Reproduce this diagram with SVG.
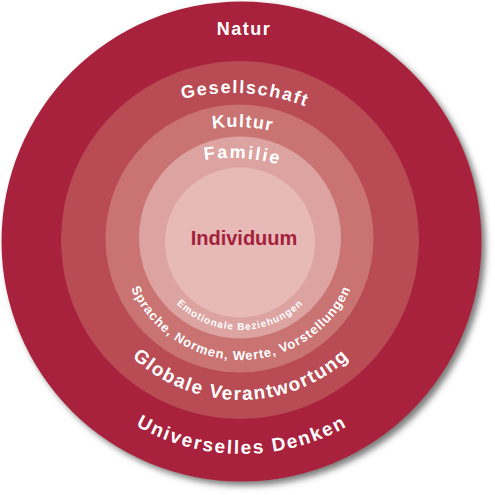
<svg xmlns="http://www.w3.org/2000/svg" width="495" height="495" viewBox="0 0 495 495">
  <style>
    .lbl { font-family: "Liberation Sans", Arial, sans-serif; font-weight: bold; fill: #ffffff; }
    .big { font-size: 19px; }
    .mid { font-size: 18px; }
  </style>
  <defs>
    <filter id="shadow" x="-10%" y="-10%" width="125%" height="125%">
      <feDropShadow dx="4" dy="4" stdDeviation="3" flood-color="#505050" flood-opacity="0.75"/>
    </filter>
    <path id="pGes" d="M145.3,112.2 A205,205 0 0 1 341.5,124.7"/>
    <path id="pKul" d="M178.5,137.1 A163,163 0 0 1 305.3,142.9"/>
    <path id="pFam" d="M175.6,167.6 A170,170 0 0 1 307.8,175.8"/>
    <path id="pEmo" d="M150,240 A90,90 0 0 0 330,240"/>
    <path id="pSpr" d="M121,240 A120,120 0 0 0 361,240"/>
    <path id="pGlo" d="M81,240 A160,160 0 0 0 401,240"/>
    <path id="pUni" d="M28,240 A214,214 0 0 0 456,240"/>
  </defs>

  <g id="natur">
    <circle cx="241.5" cy="241.5" r="240" fill="#A8213C" filter="url(#shadow)"/>
    <text class="lbl" x="244" y="35" font-size="18" text-anchor="middle" letter-spacing="1.5">Natur</text>
    <text class="lbl big" letter-spacing="1.9"><textPath href="#pUni" startOffset="50%" text-anchor="middle">Universelles Denken</textPath></text>
  </g>

  <g id="gesellschaft">
    <circle cx="240" cy="240" r="179" fill="#B84B54"/>
    <text class="lbl mid" letter-spacing="1.6"><textPath href="#pGes" startOffset="50%" text-anchor="middle">Gesellschaft</textPath></text>
    <text class="lbl big" letter-spacing="1.5"><textPath href="#pGlo" startOffset="50%" text-anchor="middle">Globale Verantwortung</textPath></text>
  </g>

  <g id="kultur">
    <circle cx="239.5" cy="238.5" r="134" fill="#C97372"/>
    <text class="lbl mid" letter-spacing="1.2"><textPath href="#pKul" startOffset="50%" text-anchor="middle">Kultur</textPath></text>
    <text class="lbl" font-size="13" letter-spacing="0.9"><textPath href="#pSpr" startOffset="50%" text-anchor="middle">Sprache, Normen, Werte, Vorstellungen</textPath></text>
  </g>

  <g id="familie">
    <circle cx="240" cy="237.5" r="101" fill="#DCA3A1"/>
    <text class="lbl mid" letter-spacing="2"><textPath href="#pFam" startOffset="50%" text-anchor="middle">Familie</textPath></text>
    <text class="lbl" font-size="10" letter-spacing="1"><textPath href="#pEmo" startOffset="50%" text-anchor="middle">Emotionale Beziehungen</textPath></text>
  </g>

  <g id="individuum">
    <circle cx="240" cy="242.5" r="75" fill="#E7BAB7"/>
    <text x="244" y="245" font-family="'Liberation Sans', Arial, sans-serif" font-weight="bold" font-size="20" fill="#A3213B" text-anchor="middle">Individuum</text>
  </g>

  <g id="connectors"/>
</svg>
